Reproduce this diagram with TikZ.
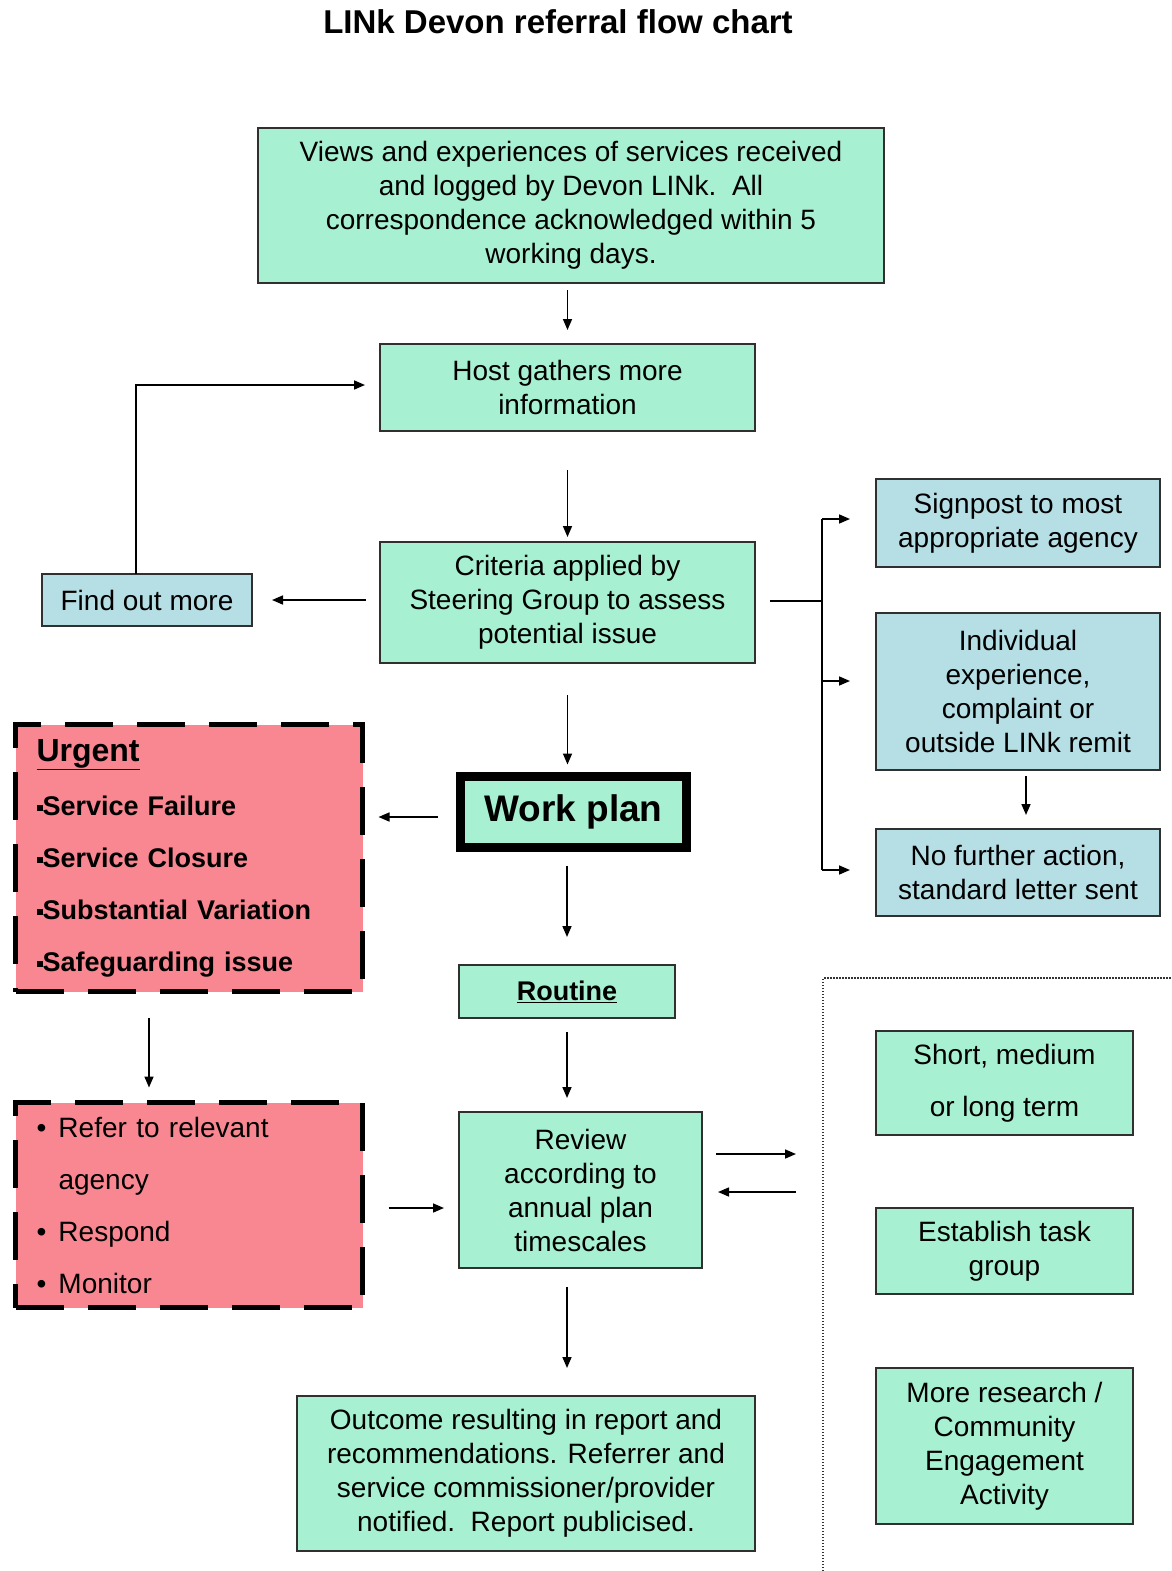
\documentclass[tikz,border=0pt]{standalone}
\usepackage{fontspec}
\setmainfont{Liberation Sans}
\usetikzlibrary{arrows.meta}
\definecolor{mint}{HTML}{A8F0D2}
\definecolor{paleblue}{HTML}{B5DEE5}
\definecolor{pinkbox}{HTML}{F98791}
\definecolor{edge}{HTML}{303030}
\begin{document}
\begin{tikzpicture}[x=1pt,y=-1pt,
  every node/.style={inner sep=0pt,outer sep=0pt},
  bx/.style={draw=edge,line width=1.6pt,align=center,font=\fontsize{28}{34}\selectfont},
  mintbox/.style={bx,fill=mint},
  bluebox/.style={bx,fill=paleblue},
  pinkdash/.style={draw=black,fill=pinkbox,line width=5pt,dash pattern=on 48pt off 24pt,align=left},
  arr/.style={line width=1.6pt,-{Triangle[length=11pt,width=9pt]}},
  plain/.style={line width=1.6pt}
]
\useasboundingbox (0,0) rectangle (1172,1571);

\node (title) at (558,22) {\fontsize{33}{38}\selectfont\bfseries LINk Devon referral flow chart};

\node[mintbox,minimum width=626pt,minimum height=155pt] (views) at (571,205.5)
  {Views and experiences of services received\\and logged by Devon LINk.\ \ All\\correspondence acknowledged within 5\\working days.};
\node[mintbox,minimum width=375pt,minimum height=87pt] (host) at (567.5,387.5)
  {Host gathers more\\information};
\node[mintbox,minimum width=375pt,minimum height=121pt] (crit) at (567.5,602.5)
  {Criteria applied by\\Steering Group to assess\\potential issue};
\node[bluebox,minimum width=210pt,minimum height=52pt] (find) at (147,600) {Find out more};
\node[bluebox,minimum width=284pt,minimum height=88pt] (sign) at (1018,523)
  {Signpost to most\\appropriate agency};
\node[bluebox,minimum width=284pt,minimum height=157pt] (indiv) at (1018,691.5)
  {Individual\\experience,\\complaint or\\outside LINk remit};
\node[bluebox,minimum width=284pt,minimum height=87pt] (nofur) at (1018,872.5)
  {No further action,\\standard letter sent};

\node[draw=black,fill=mint,line width=9pt,minimum width=226pt,minimum height=71pt,
  font=\fontsize{37}{40}\selectfont\bfseries] (work) at (573.5,812) {Work plan};

\node[pinkdash,minimum width=347pt,minimum height=267pt,text width=305pt,inner xsep=21pt,
  font=\fontsize{27}{52}\selectfont\bfseries] (urgent) at (189,858)
  {{\fontsize{32}{36}\selectfont\underline{Urgent}}\\[2pt]
   \rule[0.28ex]{6pt}{6pt}Service Failure\\
   \rule[0.28ex]{6pt}{6pt}Service Closure\\
   \rule[0.28ex]{6pt}{6pt}Substantial Variation\\
   \rule[0.28ex]{6pt}{6pt}Safeguarding issue};

\node[mintbox,minimum width=216pt,minimum height=53pt,font=\fontsize{27}{32}\selectfont\bfseries] (routine) at (567,991.5)
  {\underline{Routine}};

\node[pinkdash,minimum width=347pt,minimum height=205pt,text width=305pt,inner xsep=21pt,
  font=\fontsize{28}{52}\selectfont] (refer) at (189,1205)
  {\makebox[22pt][l]{\textbullet}Refer to relevant\\
   \hspace*{22pt}agency\\
   \makebox[22pt][l]{\textbullet}Respond\\
   \makebox[22pt][l]{\textbullet}Monitor};

\node[mintbox,minimum width=243pt,minimum height=156pt] (review) at (580.5,1190)
  {Review\\according to\\annual plan\\timescales};
\node[mintbox,minimum width=458pt,minimum height=155pt] (outcome) at (526,1473.5)
  {Outcome resulting in report and\\recommendations. Referrer and\\service commissioner/provider\\notified.\ \ Report publicised.};

\node[mintbox,minimum width=257pt,minimum height=104pt,font=\fontsize{28}{52}\selectfont] (short) at (1004.5,1083)
  {Short, medium\\or long term};
\node[mintbox,minimum width=257pt,minimum height=86pt] (estab) at (1004.5,1251)
  {Establish task\\group};
\node[mintbox,minimum width=257pt,minimum height=156pt] (more) at (1004.5,1446)
  {More research /\\Community\\Engagement\\Activity};

% dotted frame
\coordinate (dA) at (823,1571);
\coordinate (dB) at (823,978);
\coordinate (dC) at (1172,978);
\draw[line width=2pt,dash pattern=on 1.5pt off 1.5pt,draw=black!80] (dA) -- (dB) -- (dC);

% connectors
\draw[arr,shorten <=7pt,shorten >=14pt] (views.south -| host.north) -- (host.north);
\draw[arr,shorten <=39pt,shorten >=5pt] (host.south) -- (crit.north);
\draw[arr,shorten <=14pt,shorten >=20pt] (crit.west |- find.east) -- (find.east);
\coordinate (fb) at (136,385);
\draw[arr,shorten >=15pt] (find.north -| fb) |- (fb -| host.west);

\coordinate (br) at (822,601);
\coordinate (b1) at (822,519);
\coordinate (b2) at (822,681);
\coordinate (b3) at (822,870);
\draw[plain,shorten <=15pt] (crit.east |- br) -- (br);
\draw[plain] (b1) -- (b3);
\draw[arr,shorten >=26pt] (b1) -- (b1 -| sign.west);
\draw[arr,shorten >=26pt] (b2) -- (b2 -| indiv.west);
\draw[arr,shorten >=26pt] (b3) -- (b3 -| nofur.west);
\draw[arr,shorten <=6pt,shorten >=14pt] ([xshift=8pt]indiv.south) -- ([xshift=8pt]nofur.north);

\draw[arr,shorten <=32pt,shorten >=12pt] (crit.south) -- (crit.south |- work.north);
\draw[arr,shorten <=23pt,shorten >=16pt] ([yshift=-5pt]work.west) -- ([yshift=-5pt]work.west -| urgent.east);
\draw[arr,shorten <=18pt,shorten >=28pt] (work.south -| routine.north) -- (routine.north);
\draw[arr,shorten <=26pt,shorten >=15pt] ([xshift=-40pt]urgent.south) -- ([xshift=-40pt]refer.north);
\draw[arr,shorten <=26pt,shorten >=15pt] ([yshift=-3pt]refer.east) -- ([yshift=-3pt]refer.east -| review.west);
\draw[arr,shorten <=14pt,shorten >=14pt] (routine.south) -- (routine.south |- review.north);

\coordinate (rr1) at (796,1154);
\coordinate (rr2) at (796,1192);
\draw[arr,shorten <=14pt] (review.east |- rr1) -- (rr1);
\draw[arr,shorten >=16pt] (rr2) -- (rr2 -| review.east);
\draw[arr,shorten <=19pt,shorten >=28pt] (review.south -| routine.south) -- (routine.south |- outcome.north);
\end{tikzpicture}
\end{document}
